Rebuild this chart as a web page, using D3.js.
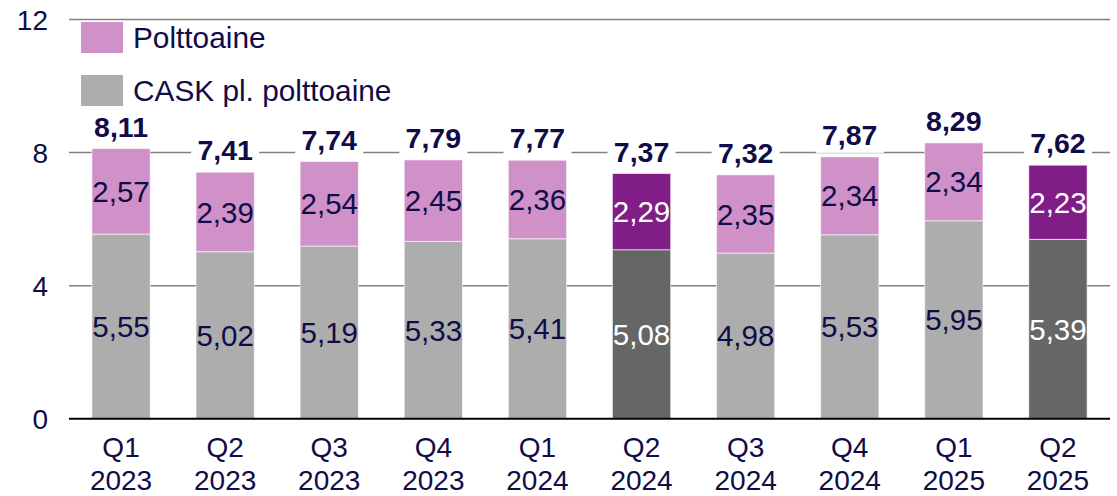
<!DOCTYPE html>
<html><head><meta charset="utf-8">
<script src="https://cdn.jsdelivr.net/npm/d3@7"></script>
<style>
html,body{margin:0;padding:0;background:#fff;}
svg{display:block;font-family:"Liberation Sans",Arial,sans-serif;}
</style></head>
<body>
<svg id="chart" width="1117" height="496"></svg>
<script>
const quarters = ["Q1","Q2","Q3","Q4","Q1","Q2","Q3","Q4","Q1","Q2"];
const years = ["2023","2023","2023","2023","2024","2024","2024","2024","2025","2025"];
const caskExFuel = [5.55,5.02,5.19,5.33,5.41,5.08,4.98,5.53,5.95,5.39];
const fuel = [2.57,2.39,2.54,2.45,2.36,2.29,2.35,2.34,2.34,2.23];
const totals = [8.11,7.41,7.74,7.79,7.77,7.37,7.32,7.87,8.29,7.62];
const highlighted = [false,false,false,false,false,true,false,false,false,true];
const yTicks = [0,4,8,12];
const seriesNames = ["Polttoaine","CASK pl. polttoaine"];

const colors = {fuel:"#d090c8", cask:"#adadad", fuelHi:"#801d86", caskHi:"#666666", text:"#100c48"};
const categories = quarters.map((q,i)=>q+" "+years[i]);
const fmt = d3.formatLocale({decimal:",",thousands:" ",grouping:[3],currency:["","€"]}).format(".2f");

const svg = d3.select("#chart");
const x0 = 69, x1 = 1110, yTop = 19.5, yBot = 418.7;
const x = d3.scaleBand().domain(categories).range([x0,x1]).paddingInner(0.44).paddingOuter(0.22);
const y = d3.scaleLinear().domain([0,12]).range([yBot,yTop]);

svg.append("g").selectAll("line").data(yTicks.filter(d=>d>0)).join("line")
  .attr("x1",x0).attr("x2",x1).attr("y1",d=>y(d)).attr("y2",d=>y(d))
  .attr("stroke","#808080").attr("stroke-width",1.5);

svg.append("g").selectAll("text").data(yTicks).join("text")
  .attr("x",48).attr("y",d=>y(d)).attr("dy","0.36em").attr("text-anchor","end")
  .attr("font-size",28).attr("fill",colors.text).text(d=>d);

const data = categories.map((c,i)=>({c,cask:caskExFuel[i],fuel:fuel[i],total:totals[i],hi:highlighted[i],q:quarters[i],yr:years[i]}));

const bars = svg.append("g");
bars.selectAll("rect.cask").data(data).join("rect").attr("class","cask")
  .attr("x",d=>x(d.c)).attr("width",x.bandwidth())
  .attr("y",d=>y(d.cask)).attr("height",d=>y(0)-y(d.cask))
  .attr("fill",d=>d.hi?colors.caskHi:colors.cask).attr("stroke","#fff").attr("stroke-opacity",0.6).attr("stroke-width",1);
bars.selectAll("rect.fuel").data(data).join("rect").attr("class","fuel")
  .attr("x",d=>x(d.c)).attr("width",x.bandwidth())
  .attr("y",d=>y(d.cask+d.fuel)).attr("height",d=>y(d.cask)-y(d.cask+d.fuel))
  .attr("fill",d=>d.hi?colors.fuelHi:colors.fuel).attr("stroke","#fff").attr("stroke-opacity",0.6).attr("stroke-width",1);

svg.append("line").attr("x1",x0).attr("x2",x1).attr("y1",y(0)).attr("y2",y(0))
  .attr("stroke","#000").attr("stroke-width",2);

const lab = svg.append("g").attr("font-size",29.5).attr("text-anchor","middle");
lab.selectAll("text.c").data(data).join("text")
  .attr("x",d=>x(d.c)+x.bandwidth()/2).attr("y",d=>(y(0)+y(d.cask))/2).attr("dy","0.36em")
  .attr("fill",d=>d.hi?"#fff":colors.text).text(d=>fmt(d.cask));
lab.selectAll("text.f").data(data).join("text")
  .attr("x",d=>x(d.c)+x.bandwidth()/2).attr("y",d=>(y(d.cask)+y(d.cask+d.fuel))/2).attr("dy","0.36em")
  .attr("fill",d=>d.hi?"#fff":colors.text).text(d=>fmt(d.fuel));

const tg = svg.append("g").selectAll("g").data(data).join("g");
tg.append("rect")
  .attr("x",d=>x(d.c)+x.bandwidth()/2-34).attr("width",68)
  .attr("y",d=>y(d.cask+d.fuel)-40).attr("height",36).attr("fill","#fff");
tg.append("text").attr("x",d=>x(d.c)+x.bandwidth()/2).attr("y",d=>y(d.cask+d.fuel)-12)
  .attr("text-anchor","middle").attr("font-size",28.5).attr("font-weight","bold")
  .attr("fill",colors.text).text(d=>fmt(d.total));

const xl = svg.append("g").attr("font-size",28).attr("text-anchor","middle").attr("fill",colors.text);
xl.selectAll("text.q").data(data).join("text").attr("x",d=>x(d.c)+x.bandwidth()/2).attr("y",457).text(d=>d.q);
xl.selectAll("text.y").data(data).join("text").attr("x",d=>x(d.c)+x.bandwidth()/2).attr("y",490).text(d=>d.yr);

const leg = svg.append("g");
const legItems = [{n:seriesNames[0],c:colors.fuel,y:22},{n:seriesNames[1],c:colors.cask,y:75}];
leg.selectAll("rect").data(legItems).join("rect").attr("x",81).attr("y",d=>d.y).attr("width",42).attr("height",31).attr("fill",d=>d.c);
leg.selectAll("text").data(legItems).join("text").attr("x",133).attr("y",d=>d.y+15.5).attr("dy","0.36em")
  .attr("font-size",29.8).attr("fill",colors.text).text(d=>d.n);
</script>
</body></html>
